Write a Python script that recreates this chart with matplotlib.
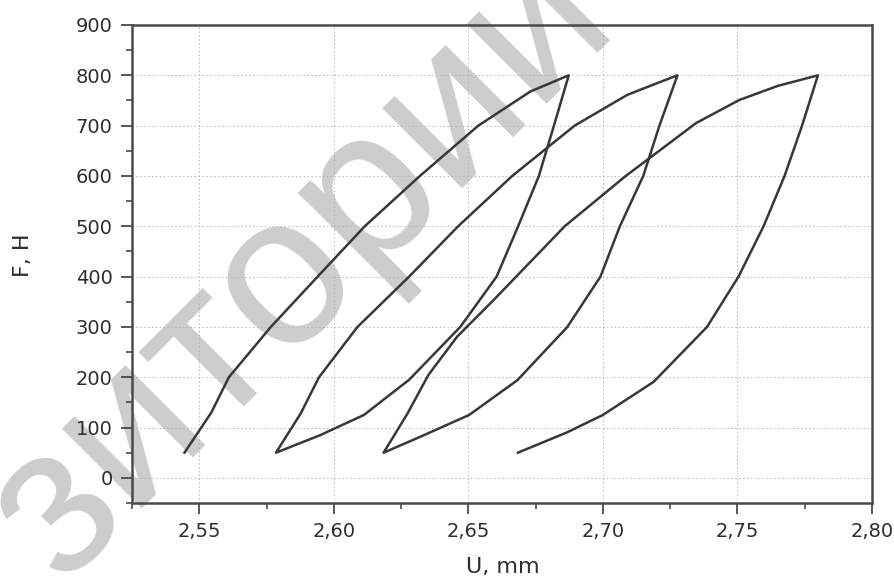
import matplotlib
matplotlib.use("Agg")
import matplotlib.pyplot as plt
from matplotlib.ticker import MultipleLocator, FuncFormatter

# ---- data ----
# loading 1
u_load1 = [2.5445, 2.5545, 2.5610, 2.5766, 2.5940, 2.6115, 2.6320, 2.6537, 2.6731, 2.6873]
f_load1 = [50, 130, 200, 300, 400, 500, 600, 700, 768, 800]
# unloading 1
u_unload1 = [2.6873, 2.6818, 2.6762, 2.6685, 2.6605, 2.6470, 2.6280, 2.6112, 2.5950, 2.5785]
f_unload1 = [800, 700, 600, 500, 400, 300, 195, 125, 85, 50]
# loading 2
u_load2 = [2.5785, 2.5877, 2.5945, 2.6088, 2.6280, 2.6462, 2.6663, 2.6895, 2.7090, 2.7190, 2.7277]
f_load2 = [50, 128, 200, 300, 400, 500, 600, 700, 761, 782, 800]
# unloading 2
u_unload2 = [2.7277, 2.7210, 2.7150, 2.7063, 2.6991, 2.6868, 2.6682, 2.6503, 2.6323, 2.6185]
f_unload2 = [800, 700, 600, 500, 400, 300, 194, 125, 82, 50]
# loading 3
u_load3 = [2.6185, 2.6274, 2.6352, 2.6459, 2.6595, 2.6858, 2.7085, 2.7346, 2.7507, 2.7650, 2.7799]
f_load3 = [50, 128, 205, 281, 354, 500, 600, 705, 751, 779, 800]
# unloading 3
u_unload3 = [2.7799, 2.7740, 2.7675, 2.7597, 2.7504, 2.7387, 2.7189, 2.7000, 2.6865, 2.6684]
f_unload3 = [800, 700, 600, 500, 400, 300, 191, 125, 90, 50]

x_label = "U, mm"
y_label = "F, H"
watermark = "зиторий"

plt.rcParams['font.family'] = ['DejaVu Sans']

fig = plt.figure(figsize=(8.95, 5.76), dpi=100)
ax = fig.add_axes([132/895, 1 - 503/576, 740/895, 478/576])
ax.set_facecolor('none')

# watermark behind the axes
fig.text(62/895, 1 - 584/576, watermark, rotation=45, rotation_mode='anchor',
         ha='left', va='baseline', fontsize=154, color='#cdcdcd',
         family='Liberation Sans', zorder=-1)

u_all = u_load1 + u_unload1[1:] + u_load2[1:] + u_unload2[1:] + u_load3[1:] + u_unload3[1:]
f_all = f_load1 + f_unload1[1:] + f_load2[1:] + f_unload2[1:] + f_load3[1:] + f_unload3[1:]
ax.plot(u_all, f_all, color='#383838', lw=1.8, solid_joinstyle='round', zorder=3)

ax.set_xlim(2.525, 2.80)
ax.set_ylim(-50, 900)
ax.xaxis.set_major_locator(MultipleLocator(0.05))
ax.xaxis.set_minor_locator(MultipleLocator(0.025))
ax.yaxis.set_major_locator(MultipleLocator(100))
ax.yaxis.set_minor_locator(MultipleLocator(50))
ax.xaxis.set_major_formatter(FuncFormatter(lambda v, p: f"{v:.2f}".replace('.', ',')))
ax.yaxis.set_major_formatter(FuncFormatter(lambda v, p: f"{v:.0f}"))

ax.grid(True, which='major', color='#b5b5b5', lw=0.7, linestyle=(0, (1.5, 2.5)))

for s in ax.spines.values():
    s.set_color('#4a4a4a')
    s.set_linewidth(1.8)

ax.tick_params(which='major', direction='out', length=8, width=1.3, color='#4a4a4a',
               labelsize=14, labelcolor='#2e2e2e', pad=6)
ax.tick_params(which='minor', direction='out', length=4.5, width=1.2, color='#4a4a4a')

ax.set_xlabel(x_label, fontsize=16, color='#2e2e2e')
ax.set_ylabel(y_label, fontsize=16, color='#2e2e2e')
ax.xaxis.set_label_coords(0.501, -0.113)
ax.yaxis.set_label_coords(-0.134, 0.519)

fig.savefig("out.png", dpi=100)
